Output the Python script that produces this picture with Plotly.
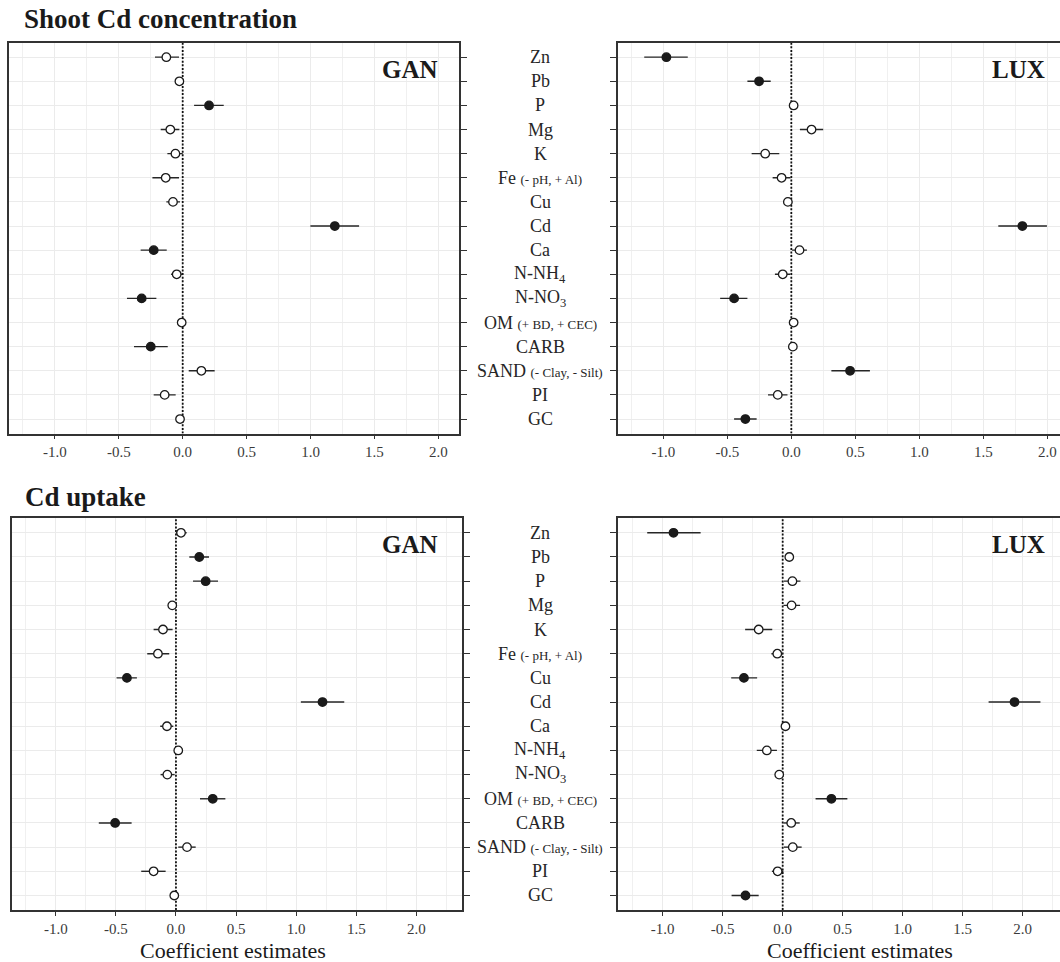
import plotly.graph_objects as go

# ---------------- data ----------------
categories = ["Zn", "Pb", "P", "Mg", "K", "Fe", "Cu", "Cd", "Ca",
              "N-NH4", "N-NO3", "OM", "CARB", "SAND", "PI", "GC"]
category_labels = [
    "Zn", "Pb", "P", "Mg", "K",
    "Fe <span style='font-size:13px'>(- pH, + Al)</span>",
    "Cu", "Cd", "Ca", "N-NH<sub>4</sub>", "N-NO<sub>3</sub>",
    "OM <span style='font-size:13px'>(+ BD, + CEC)</span>",
    "CARB",
    "SAND <span style='font-size:13px'>(- Clay, - Silt)</span>",
    "PI", "GC"]

tick_values = [-1.0, -0.5, 0.0, 0.5, 1.0, 1.5, 2.0]
tick_labels = ["-1.0", "-0.5", "0.0", "0.5", "1.0", "1.5", "2.0"]
reference_value = 0.0

# Shoot Cd concentration - GAN
conc_gan_est = [-0.128, -0.026, 0.206, -0.097, -0.057, -0.133, -0.076, 1.190, -0.227, -0.047, -0.321, -0.008, -0.250, 0.146, -0.141, -0.021]
conc_gan_lo = [-0.217, -0.060, 0.089, -0.172, -0.120, -0.237, -0.128, 0.999, -0.329, -0.091, -0.436, -0.020, -0.381, 0.047, -0.227, -0.047]
conc_gan_hi = [-0.029, 0.005, 0.321, -0.026, 0.000, -0.029, -0.021, 1.380, -0.125, -0.005, -0.206, 0.005, -0.117, 0.250, -0.055, 0.010]
conc_gan_sig = [0, 0, 1, 0, 0, 0, 0, 1, 1, 0, 1, 0, 1, 0, 0, 0]

# Shoot Cd concentration - LUX
conc_lux_est = [-0.976, -0.252, 0.018, 0.158, -0.204, -0.076, -0.027, 1.805, 0.064, -0.067, -0.447, 0.018, 0.012, 0.459, -0.106, -0.359]
conc_lux_lo = [-1.149, -0.343, -0.006, 0.067, -0.310, -0.146, -0.050, 1.617, 0.006, -0.128, -0.556, -0.006, -0.006, 0.313, -0.182, -0.447]
conc_lux_hi = [-0.809, -0.161, 0.043, 0.249, -0.094, -0.006, -0.006, 1.997, 0.122, -0.009, -0.343, 0.043, 0.031, 0.614, -0.030, -0.271]
conc_lux_sig = [1, 1, 0, 0, 0, 0, 0, 1, 0, 0, 1, 0, 0, 1, 0, 1]

# Cd uptake - GAN
upt_gan_est = [0.042, 0.194, 0.247, -0.031, -0.108, -0.150, -0.408, 1.219, -0.075, 0.019, -0.072, 0.306, -0.506, 0.092, -0.186, -0.014]
upt_gan_lo = [0.000, 0.111, 0.142, -0.056, -0.186, -0.239, -0.494, 1.039, -0.131, -0.008, -0.128, 0.200, -0.642, 0.019, -0.289, -0.036]
upt_gan_hi = [0.089, 0.275, 0.350, 0.006, -0.028, -0.056, -0.325, 1.400, -0.022, 0.047, -0.011, 0.411, -0.369, 0.164, -0.086, 0.011]
upt_gan_sig = [0, 1, 1, 0, 0, 0, 1, 1, 0, 0, 0, 1, 1, 0, 0, 0]

# Cd uptake - LUX
upt_lux_est = [-0.910, 0.055, 0.081, 0.074, -0.200, -0.045, -0.323, 1.932, 0.023, -0.132, -0.029, 0.406, 0.071, 0.084, -0.042, -0.310]
upt_lux_lo = [-1.129, 0.023, 0.010, 0.006, -0.313, -0.094, -0.429, 1.716, 0.000, -0.216, -0.048, 0.274, 0.006, 0.010, -0.090, -0.426]
upt_lux_hi = [-0.684, 0.087, 0.148, 0.145, -0.087, 0.000, -0.213, 2.148, 0.048, -0.048, 0.003, 0.539, 0.142, 0.158, 0.006, -0.200]
upt_lux_sig = [1, 0, 0, 0, 0, 0, 1, 1, 0, 0, 0, 1, 0, 0, 0, 1]

# ---------------- layout helpers ----------------
W, H = 1060, 962
FONT = "Liberation Serif, Times New Roman, serif"
INK = "#1a1a1a"
GRID = "#ebebeb"
rows = list(range(1, len(categories) + 1))
Y_RANGE = [len(categories) + 0.6, 0.4]


def px_x(p):
    return p / W


def px_y(p):
    return 1 - p / H


panels = [
    dict(est=conc_gan_est, lo=conc_gan_lo, hi=conc_gan_hi, sig=conc_gan_sig,
         xd=(9, 459.3), yd=(42.7, 433.5), xr=(-1.359, 2.164), side="right",
         tag="GAN", tagx=439.5, right_border=True),
    dict(est=conc_lux_est, lo=conc_lux_lo, hi=conc_lux_hi, sig=conc_lux_sig,
         xd=(618, 1060), yd=(42.7, 433.5), xr=(-1.354, 2.099), side="left",
         tag="LUX", tagx=1047, right_border=False),
    dict(est=upt_gan_est, lo=upt_gan_lo, hi=upt_gan_hi, sig=upt_gan_sig,
         xd=(12, 461.7), yd=(518.3, 910), xr=(-1.364, 2.377), side="right",
         tag="GAN", tagx=439.5, right_border=True),
    dict(est=upt_lux_est, lo=upt_lux_lo, hi=upt_lux_hi, sig=upt_lux_sig,
         xd=(617.7, 1060), yd=(518.3, 910), xr=(-1.375, 2.311), side="left",
         tag="LUX", tagx=1047, right_border=False),
]

fig = go.Figure()
annotations = []
layout_axes = {}

for i, p in enumerate(panels, start=1):
    xs = "" if i == 1 else str(i)
    xa, ya = "x" + xs, "y" + xs
    # dotted reference line at zero (drawn under the points)
    fig.add_trace(go.Scatter(
        x=[reference_value, reference_value], y=Y_RANGE, mode="lines",
        xaxis=xa, yaxis=ya, showlegend=False, hoverinfo="skip",
        line=dict(color="#111111", width=1.8, dash="2px,1.6px"),
    ))
    plus = [h - e for h, e in zip(p["hi"], p["est"])]
    minus = [e - l for e, l in zip(p["est"], p["lo"])]
    fills = [INK if s else "white" for s in p["sig"]]
    fig.add_trace(go.Scatter(
        x=p["est"], y=rows, mode="markers", xaxis=xa, yaxis=ya,
        showlegend=False, cliponaxis=False,
        error_x=dict(type="data", symmetric=False, array=plus,
                     arrayminus=minus, width=0, thickness=1.4, color="#262626"),
        marker=dict(size=8.5, color=fills, symbol="circle",
                    line=dict(color=INK, width=1.3)),
    ))
    layout_axes["xaxis" + xs] = dict(
        domain=[px_x(p["xd"][0]), px_x(p["xd"][1])], anchor=ya,
        range=list(p["xr"]), tickvals=tick_values, ticktext=tick_labels,
        showgrid=True, gridcolor=GRID, gridwidth=1,
        minor=dict(dtick=0.25, tick0=0, showgrid=True, gridcolor="#f0f0f0",
                   gridwidth=1),
        zeroline=False, showline=True, mirror=True, linecolor="#333333",
        linewidth=1.6, ticks="outside", ticklen=4, tickwidth=1.2,
        tickcolor="#333333",
        tickfont=dict(family=FONT, size=15, color="#3a3a3a"),
    )
    layout_axes["yaxis" + xs] = dict(
        domain=[px_y(p["yd"][1]), px_y(p["yd"][0])], anchor=xa,
        range=Y_RANGE, tickvals=rows, showticklabels=False,
        side=p["side"], showgrid=True, gridcolor=GRID, gridwidth=1,
        zeroline=False, showline=True,
        mirror=True if p["right_border"] else False,
        linecolor="#333333", linewidth=1.6, ticks="outside", ticklen=6,
        tickwidth=1.3, tickcolor="#333333",
    )
    # panel tag
    annotations.append(dict(text="<b>" + p["tag"] + "</b>", xref="paper",
                            x=px_x(p["tagx"]), xanchor="right", yref=ya,
                            y=1.5, yanchor="middle", showarrow=False,
                            font=dict(family=FONT, size=25, color=INK)))

# centred category labels between the panels
for ya in ["y2", "y4"]:
    for r, lab in zip(rows, category_labels):
        annotations.append(dict(text=lab, xref="paper", x=px_x(540),
                                xanchor="center", yref=ya, y=r,
                                yanchor="middle", showarrow=False,
                                font=dict(family=FONT, size=18, color="#262626")))

# section titles
annotations.append(dict(text="<b>Shoot Cd concentration</b>", xref="paper",
                        x=px_x(22), xanchor="left", yref="paper",
                        y=px_y(19), yanchor="middle", showarrow=False,
                        font=dict(family=FONT, size=27, color=INK)))
annotations.append(dict(text="<b>Cd uptake</b>", xref="paper", x=px_x(23),
                        xanchor="left", yref="paper", y=px_y(497),
                        yanchor="middle", showarrow=False,
                        font=dict(family=FONT, size=27, color=INK)))
# axis titles
for cx in [233, 860]:
    annotations.append(dict(text="Coefficient estimates", xref="paper",
                            x=px_x(cx), xanchor="center", yref="paper",
                            y=px_y(950), yanchor="middle", showarrow=False,
                            font=dict(family=FONT, size=22, color=INK)))

fig.update_layout(
    width=W, height=H, margin=dict(l=0, r=0, t=0, b=0),
    paper_bgcolor="white", plot_bgcolor="white",
    annotations=annotations, **layout_axes,
)

fig.write_html("out.html")
